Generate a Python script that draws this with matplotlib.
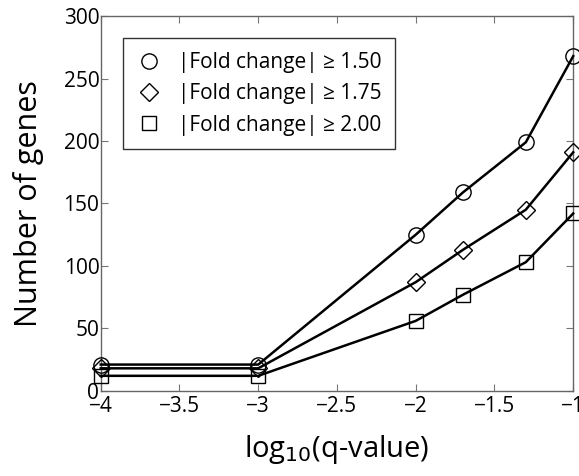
import matplotlib
matplotlib.use("Agg")
import matplotlib.pyplot as plt
import numpy as np

plt.rcParams['font.family'] = ['Open Sans', 'DejaVu Sans']

# log10 of q-value thresholds
log_q = [-4, -3, -2, np.log10(0.02), np.log10(0.05), -1]

fc_150 = [21, 21, 125, 159, 199, 268]
fc_175 = [18, 18, 87, 113, 145, 191]
fc_200 = [12, 12, 56, 77, 103, 142]

labels = ['|Fold change| \u2265 1.50',
          '|Fold change| \u2265 1.75',
          '|Fold change| \u2265 2.00']

fig = plt.figure(figsize=(5.79, 4.76), dpi=100)
ax = fig.add_axes([0.174, 0.179, 0.816, 0.787])

ax.plot(log_q, fc_150, 'k-o', mfc='none', ms=11, lw=1.8, mew=1.0, label=labels[0], clip_on=False, zorder=3)
ax.plot(log_q, fc_175, 'k-D', mfc='none', ms=9, lw=1.8, mew=1.0, label=labels[1], clip_on=False, zorder=3)
ax.plot(log_q, fc_200, 'k-s', mfc='none', ms=10, lw=1.8, mew=1.0, label=labels[2], clip_on=False, zorder=3)

ax.set_xlim(-4, -1)
ax.set_ylim(0, 300)
ax.set_xticks([-4, -3.5, -3, -2.5, -2, -1.5, -1])
ax.set_xticklabels(['\u22124', '\u22123.5', '\u22123', '\u22122.5', '\u22122', '\u22121.5', '\u22121'])
ax.set_yticks([0, 50, 100, 150, 200, 250, 300])
ax.tick_params(direction='in', top=True, right=True, labelsize=15, length=5, color='#777777')
ax.tick_params(axis='y', pad=1)
ax.tick_params(axis='x', pad=4)
for s in ax.spines.values():
    s.set_color('#666666')
    s.set_linewidth(1.0)

ax.set_xlabel(r'log$_{10}$(q-value)', fontsize=21, labelpad=11)
ax.set_ylabel('Number of genes', fontsize=22, labelpad=14)

leg = ax.legend(loc='upper left', bbox_to_anchor=(0.047, 0.941), borderaxespad=0, fontsize=15,
                fancybox=False, edgecolor='#333333', handlelength=1.2, handletextpad=0.8,
                borderpad=0.65, labelspacing=0.5, framealpha=1)
leg.get_frame().set_linewidth(1.0)
# markers only in legend
for h in leg.legend_handles:
    h.set_linestyle('none')

fig.savefig('out.png', dpi=100)
